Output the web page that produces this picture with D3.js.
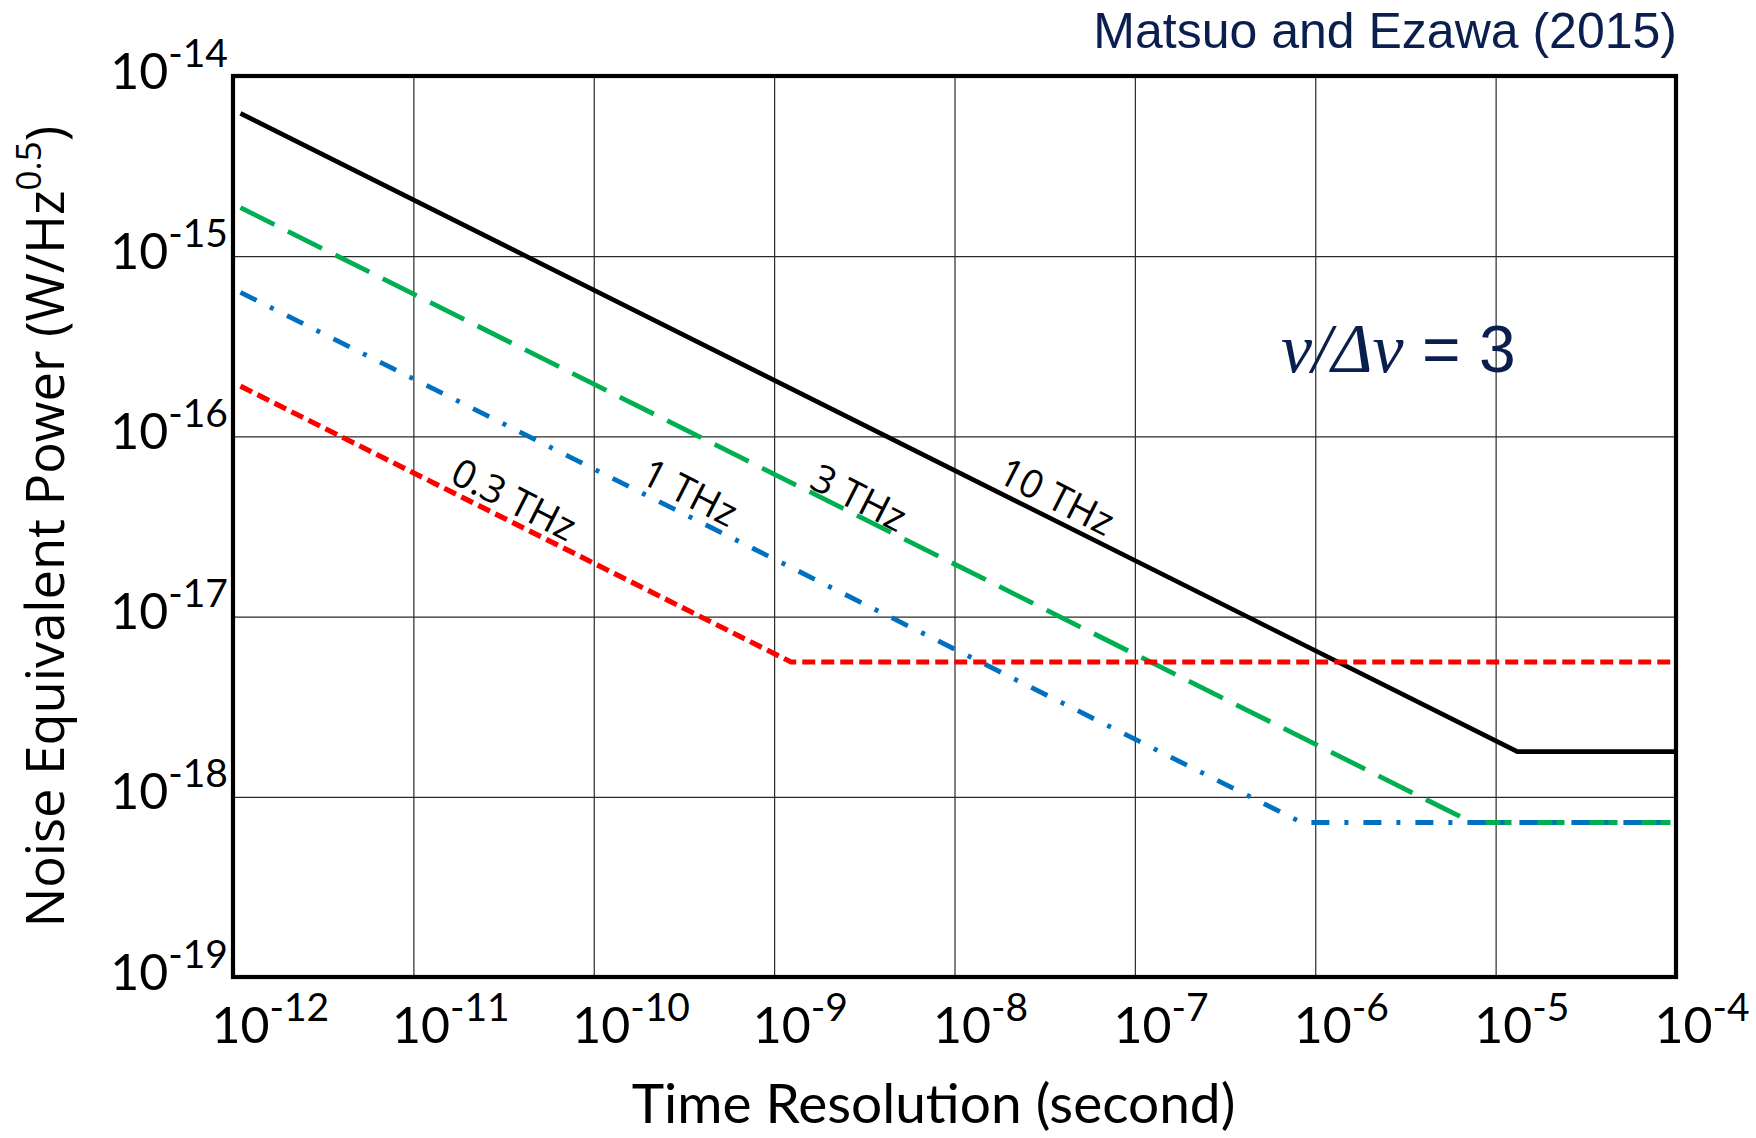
<!DOCTYPE html>
<html>
<head>
<meta charset="utf-8">
<script src="https://cdn.jsdelivr.net/npm/d3@7/dist/d3.min.js"></script>
<style>
  html, body { margin: 0; padding: 0; background: #ffffff; }
  svg { display: block; }
</style>
</head>
<body>
<script>
// ---------------- DATA ----------------
const xTickExponents = [-12, -11, -10, -9, -8, -7, -6, -5, -4];
const yTickExponents = [-14, -15, -16, -17, -18, -19];

const seriesNames = ["10 THz", "3 THz", "1 THz", "0.3 THz"];

// time resolution (s) at line start, knee, end ; NEP (W/Hz^0.5) at same points
const time10THz  = [1.1e-12, 1.32e-5, 1e-4];
const nep10THz   = [6.2e-15, 1.78e-18, 1.78e-18];
const time3THz   = [1.1e-12, 7.4e-6, 1e-4];
const nep3THz    = [1.86e-15, 7.2e-19, 7.2e-19];
const time1THz   = [1.1e-12, 8.4e-7, 1e-4];
const nep1THz    = [6.3e-16, 7.2e-19, 7.2e-19];
const time03THz  = [1.1e-12, 1.24e-9, 1e-4];
const nep03THz   = [1.9e-16, 5.6e-18, 5.6e-18];

// label anchors in data coordinates (time, NEP)
const labelTime = [3.72e-8, 2.98e-9, 3.44e-10, 3.65e-11];
const labelNEP  = [4.73e-17, 4.67e-17, 4.98e-17, 4.55e-17];

const xTitle = "Time Resolution (second)";
const yTitleMain = "Noise Equivalent Power (W/Hz";
const yTitleSup = "0.5";
const sourceText = "Matsuo and Ezawa (2015)";

// ---------------- LAYOUT ----------------
const W = 1756, H = 1138;
const L = 233, R = 1676, T = 76, B = 977;

const svg = d3.select("body").append("svg").attr("width", W).attr("height", H);

const x = d3.scaleLog().domain([1e-12, 1e-4]).range([L, R]);
const y = d3.scaleLog().domain([1e-19, 1e-14]).range([B, T]);

const xTicks = xTickExponents.map(e => Math.pow(10, e));
const yTicks = yTickExponents.map(e => Math.pow(10, e));

// grid via axes
const gx = svg.append("g").attr("transform", `translate(0,${B})`)
  .call(d3.axisBottom(x).tickValues(xTicks).tickSize(-(B - T)).tickFormat(() => ""));
gx.select(".domain").remove();
gx.selectAll(".tick line").attr("stroke", "#2a2a2a").attr("stroke-width", 1.2);
gx.selectAll(".tick text").remove();

const gy = svg.append("g").attr("transform", `translate(${L},0)`)
  .call(d3.axisLeft(y).tickValues(yTicks).tickSize(-(R - L)).tickFormat(() => ""));
gy.select(".domain").remove();
gy.selectAll(".tick line").attr("stroke", "#2a2a2a").attr("stroke-width", 1.2);
gy.selectAll(".tick text").remove();

const tickFont = "Lato, 'Open Sans', sans-serif";

// x tick labels
gx.selectAll(".tick").each(function(d, i) {
  const t = d3.select(this).append("text")
    .attr("x", -22).attr("y", 1043 - B)
    .attr("text-anchor", "start")
    .attr("font-family", tickFont).attr("font-size", 50).attr("fill", "#000");
  t.append("tspan").text("10");
  t.append("tspan").attr("dy", -22).attr("font-size", 39).text(String(xTickExponents[i]));
});

// y tick labels
gy.selectAll(".tick").each(function(d, i) {
  const t = d3.select(this).append("text")
    .attr("x", -5).attr("y", 12)
    .attr("text-anchor", "end")
    .attr("font-family", tickFont).attr("font-size", 50).attr("fill", "#000");
  t.append("tspan").text("10");
  t.append("tspan").attr("dy", -22).attr("font-size", 39).text(String(yTickExponents[i]));
});

// ---------------- LINES ----------------
const line = d3.line().x(d => x(d[0])).y(d => y(d[1]));
const zip = (a, b) => a.map((v, i) => [v, b[i]]);

const seriesDefs = [
  { data: zip(time10THz, nep10THz), color: "#000000", width: 4.6, dash: null },
  { data: zip(time3THz, nep3THz),   color: "#00b050", width: 4.8, dash: "38,15" },
  { data: zip(time1THz, nep1THz),   color: "#0070c0", width: 4.8, dash: "18,15,4,15" },
  { data: zip(time03THz, nep03THz), color: "#ff0000", width: 5.2, dash: "13,6" }
];

svg.append("g").selectAll("path").data(seriesDefs).join("path")
  .attr("d", d => line(d.data))
  .attr("fill", "none")
  .attr("stroke", d => d.color)
  .attr("stroke-width", d => d.width)
  .attr("stroke-dasharray", d => d.dash)
  .attr("stroke-linejoin", "miter");

// series labels
svg.append("g").selectAll("text").data(seriesNames).join("text")
  .attr("transform", (d, i) => `translate(${x(labelTime[i])},${y(labelNEP[i])}) rotate(27)`)
  .attr("text-anchor", "middle")
  .attr("dominant-baseline", "central")
  .attr("font-family", "'Open Sans', sans-serif")
  .attr("font-size", 39)
  .attr("fill", "#000")
  .text(d => d);

// frame
svg.append("rect")
  .attr("x", L).attr("y", T).attr("width", R - L).attr("height", B - T)
  .attr("fill", "none").attr("stroke", "#000").attr("stroke-width", 4.2);

// ---------------- TITLES ----------------
svg.append("text")
  .attr("x", 933.5).attr("y", 1123)
  .attr("text-anchor", "middle")
  .attr("font-family", tickFont).attr("font-size", 55).attr("fill", "#000")
  .text(xTitle);

const yt = svg.append("text")
  .attr("transform", `translate(64,${(T + B) / 2}) rotate(-90)`)
  .attr("text-anchor", "middle")
  .attr("font-family", "'Open Sans', sans-serif").attr("font-size", 52.5).attr("fill", "#000");
yt.append("tspan").text(yTitleMain);
yt.append("tspan").attr("dy", -23).attr("font-size", 35).text(yTitleSup);
yt.append("tspan").attr("dy", 23).text(")");

svg.append("text")
  .attr("x", 1677).attr("y", 48)
  .attr("text-anchor", "end")
  .attr("font-family", "'Liberation Sans', Arial, sans-serif").attr("font-size", 50)
  .attr("fill", "#0b1f4e")
  .text(sourceText);

const ratio = svg.append("text")
  .attr("x", 1281).attr("y", 372)
  .attr("text-anchor", "start")
  .attr("fill", "#0b1f4e");
ratio.append("tspan")
  .attr("font-family", "'Liberation Serif', 'Times New Roman', serif")
  .attr("font-style", "italic").attr("font-size", 70)
  .text("ν/Δν");
ratio.append("tspan")
  .attr("font-family", "'Liberation Sans', Arial, sans-serif").attr("font-size", 66)
  .text(" = 3");
</script>
</body>
</html>
